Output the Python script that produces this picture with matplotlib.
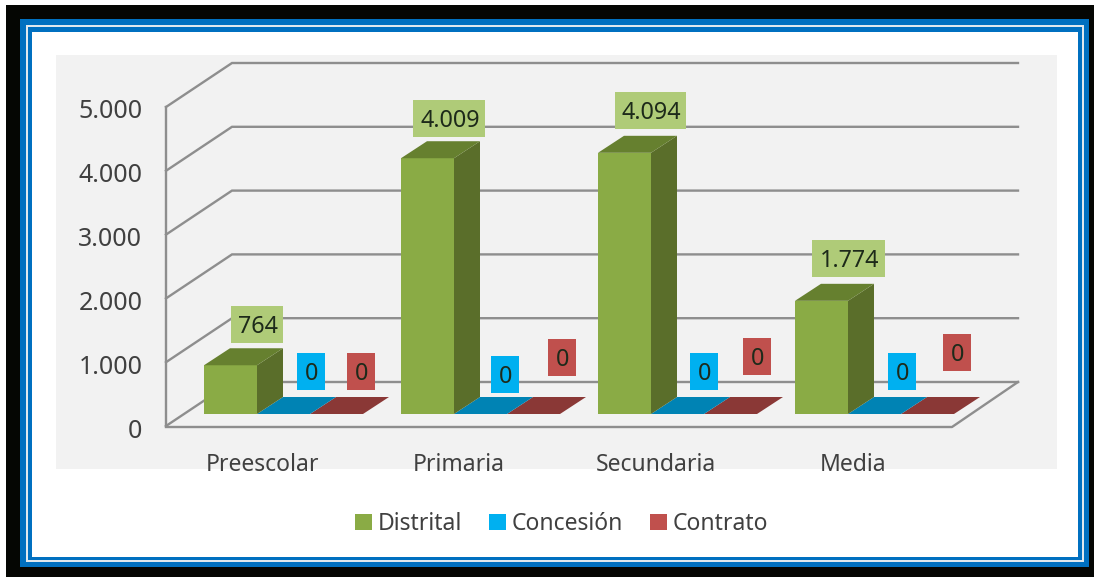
import matplotlib
matplotlib.use('Agg')
import matplotlib.pyplot as plt
from matplotlib.patches import Rectangle, Polygon, Patch
from matplotlib.transforms import ScaledTranslation

plt.rcParams['font.family'] = ['Noto Sans', 'DejaVu Sans']

# Data
categories = ['Preescolar', 'Primaria', 'Secundaria', 'Media']
distrital = [764, 4009, 4094, 1774]
concesion = [0, 0, 0, 0]
contrato = [0, 0, 0, 0]
y_ticks = [0, 1000, 2000, 3000, 4000, 5000]

W, H = 1094, 577
TEXT = '#404040'
GRID = '#8e8e8e'
LABEL_TEXT = '#1d2a1a'

# (face, side, top, label box)
GREEN = ('#8aab45', '#5a6e2a', '#66802f', '#afcb78')
BLUE = ('#00b0f0', '#006f99', '#0083b4', '#00b0f0')
RED = ('#c0504d', '#7a3230', '#8a3836', '#c0504d')

# Scale of the chart, in pixels
PX_CAT = 197.0
PX_VAL = 0.0638
BAR_PX = 53
X0, Y0 = 204, 414  # left end and baseline of the first bar
AX_L, AX_R, AX_T, AX_B = 166, 1018, 63, 427


def dx(px):
    return px / PX_CAT


def dv(px):
    return px / PX_VAL


fig = plt.figure(figsize=(W / 100, H / 100), dpi=100, facecolor='white')

# Frame drawn in pixels behind the chart
bg = fig.add_axes([0, 0, 1, 1], zorder=0)
bg.set_xlim(0, W)
bg.set_ylim(H, 0)
bg.axis('off')
for (l, t, r, b, col) in [(6, 5, W, H, '#050603'),
                          (20, 19, 1089, 567, '#0070c0'),
                          (26, 25, 1084, 562, '#dfe8ee'),
                          (28, 27, 1082, 560, '#0070c0'),
                          (32, 32, 1078, 557, 'white'),
                          (56, 55, 1057, 469, '#f2f2f2')]:
    bg.add_patch(Rectangle((l, t), r - l, b - t, facecolor=col, edgecolor='none'))

# Chart axes, x in categories and y in values
ax = fig.add_axes([AX_L / W, 1 - AX_B / H, (AX_R - AX_L) / W, (AX_B - AX_T) / H], zorder=1)
ax.patch.set_alpha(0)
ax.set_xlim((AX_L - X0) / PX_CAT, (AX_R - X0) / PX_CAT)
ax.set_ylim((Y0 - AX_B) / PX_VAL, (Y0 - AX_T) / PX_VAL)
for s in ax.spines.values():
    s.set_visible(False)

x_l = ax.get_xlim()[0]
x_r = ax.get_xlim()[1]
wall = dv(Y0 - 426)   # value offset of the front wall
depth_x, depth_v = dx(66), dv(44)

# Walls and gridlines
for t in y_ticks:
    v = wall + t
    ax.plot([x_l, x_l + depth_x, x_r], [v, v + depth_v, v + depth_v], color=GRID, lw=1.7,
            zorder=1, clip_on=False, solid_joinstyle='miter')
ax.plot([x_l, x_l], [wall, wall + y_ticks[-1]], color=GRID, lw=1.7, zorder=1, clip_on=False)
ax.plot([x_l, x_r - depth_x, x_r], [wall - dv(1), wall - dv(1), wall + depth_v], color=GRID, lw=1.7,
        zorder=1, clip_on=False)


def draw_bar(x, value, colors, zorder):
    """ Front, top and side faces of one 3d looking bar """
    w = dx(BAR_PX)
    ox, ov = dx(26), dv(17)
    face, side, top = colors[:3]
    if value > 0:
        ax.add_patch(Polygon([(x + w, 0), (x + w + ox, ov), (x + w + ox, value + ov), (x + w, value)],
                             facecolor=side, edgecolor='none', zorder=zorder))
        ax.add_patch(Rectangle((x, 0), w, value, facecolor=face, edgecolor='none', zorder=zorder))
    ax.add_patch(Polygon([(x, value), (x + ox, value + ov), (x + w + ox, value + ov), (x + w, value)],
                         facecolor=top, edgecolor='none', zorder=zorder))


for i in range(len(categories)):
    draw_bar(i + 2 * dx(BAR_PX), contrato[i], RED, 2)
    draw_bar(i + dx(BAR_PX), concesion[i], BLUE, 3)
    draw_bar(i, distrital[i], GREEN, 4)

ax.set_yticks([wall + t for t in y_ticks])
ax.set_yticklabels([f'{t:,}'.replace(',', '.') for t in y_ticks], fontsize=18, color=TEXT)
ax.set_xticks([i + dx(58) for i in range(len(categories))])
ax.set_xticklabels(categories, fontsize=16.5, color=TEXT)
ax.tick_params(axis='y', length=0, pad=17)
ax.tick_params(axis='x', length=0, pad=18.5)

# y labels sit a little under their gridline
shift = ScaledTranslation(0, -2 / 100, fig.dpi_scale_trans)
for lab in ax.get_yticklabels():
    lab.set_transform(lab.get_transform() + shift)

# Legend
handles = [Patch(facecolor=GREEN[0], label='Distrital'),
           Patch(facecolor=BLUE[0], label='Concesión'),
           Patch(facecolor=RED[0], label='Contrato')]
fig.legend(handles=handles, ncol=3, frameon=False, fontsize=16.5, labelcolor=TEXT,
           loc='center', bbox_to_anchor=(561.5 / W, 1 - 524 / H),
           handlelength=0.72, handleheight=0.72, handletextpad=0.25, columnspacing=1.2)

# Data labels sit where they were placed by hand, so they go on a pixel layer
over = fig.add_axes([0, 0, 1, 1], zorder=3)
over.set_xlim(0, W)
over.set_ylim(H, 0)
over.axis('off')

green_boxes = [(231, 306, 52), (413, 100, 72), (615, 92, 71), (812, 240, 73)]
blue_boxes = [(297, 353), (491, 356), (690, 353), (888, 353)]
red_boxes = [(347, 353), (548, 339), (743, 338), (943, 334)]


def value_label(x, y, w, value, color):
    over.add_patch(Rectangle((x, y), w, 37, facecolor=color, edgecolor='none'))
    over.text(x + w / 2 + 1, y + 21, f'{value:,}'.replace(',', '.'), ha='center', va='center',
              fontsize=16.8, color=LABEL_TEXT)


for i in range(len(categories)):
    value_label(*green_boxes[i], distrital[i], GREEN[3])
    value_label(*blue_boxes[i], 28, concesion[i], BLUE[3])
    value_label(*red_boxes[i], 28, contrato[i], RED[3])

fig.savefig('out.png', dpi=100, facecolor='white')
